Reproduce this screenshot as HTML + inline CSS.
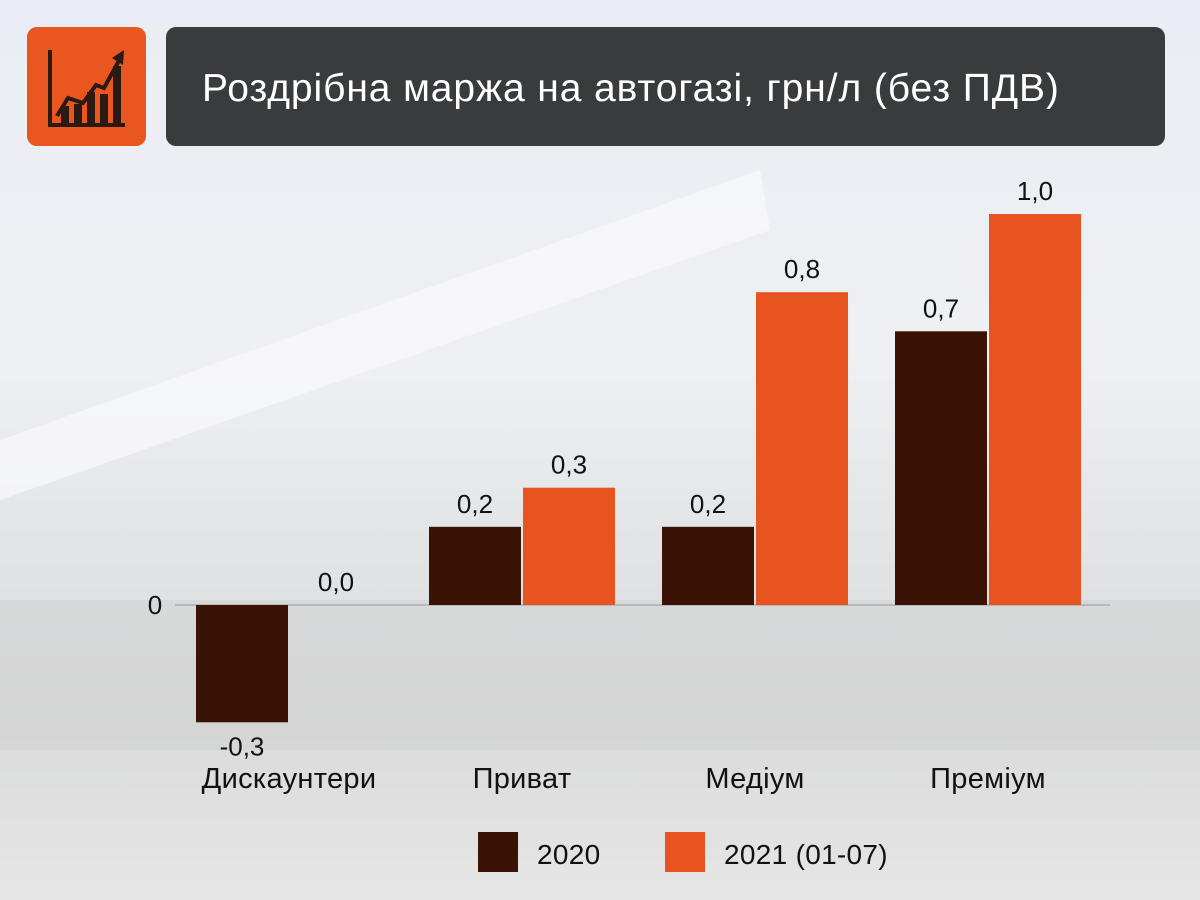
<!DOCTYPE html>
<html><head><meta charset="utf-8"><style>
body{margin:0;width:1200px;height:900px;overflow:hidden;font-family:"Liberation Sans",sans-serif;}
#bg{position:absolute;left:0;top:0;width:1200px;height:900px;background:linear-gradient(180deg,#eaedf3 0%,#eef0f3 40%,#e2e4e6 60%,#d9dadb 80%,#e6e6e6 100%);}
</style></head><body>
<div id="bg"></div>
<svg width="1200" height="900" style="position:absolute;left:0;top:0">
 <polygon points="0,440 760,170 770,230 0,500" fill="#f7f8fa" opacity="0.8"/>
 <rect x="0" y="600" width="1200" height="150" fill="#cfd0d0" opacity="0.5"/>
 <rect x="27" y="27" width="119" height="119" rx="10" fill="#e9561f"/>
 <g stroke="#2a1a12" stroke-width="4" fill="none">
  <path d="M50,50 V125 H125"/><path d="M57,116 L68,98 L83,103 L96,85 L104,88 L121,57"/>
 </g>
 <g fill="#2a1a12"><rect x="61" y="106" width="8" height="17"/><rect x="74" y="104" width="8" height="19"/><rect x="87" y="92" width="8" height="31"/><rect x="100" y="94" width="8" height="29"/><rect x="113" y="66" width="8" height="57"/><polygon points="124,50 112,58 123,65"/></g>
 <rect x="166" y="27" width="999" height="119" rx="10" fill="#3a3b3d"/>
 <text x="202" y="101" font-size="39" letter-spacing="0.9" fill="#fff">Роздрібна маржа на автогазі, грн/л (без ПДВ)</text>
 <g id="plot"></g>
 <g>
  <rect x="478" y="832" width="40" height="40" fill="#3b1305"/>
  <text x="537" y="864" font-size="28" letter-spacing="0.3" fill="#111">2020</text>
  <rect x="665" y="832" width="40" height="40" fill="#e8541f"/>
  <text x="724" y="864" font-size="28" letter-spacing="0.3" fill="#111">2021 (01-07)</text>
 </g>
</svg>
<script>
const categories=["Дискаунтери","Приват","Медіум","Преміум"];
const values2020=[-0.3,0.2,0.2,0.7];
const values2021=[0.0,0.3,0.8,1.0];
const zeroY=605,unit=391,g0=196,gStep=233,bw=92;
const y=v=>zeroY-v*unit;
const ns="http://www.w3.org/2000/svg",plot=document.getElementById('plot');
function mk(t,a){const e=document.createElementNS(ns,t);for(const k in a)e.setAttribute(k,a[k]);plot.appendChild(e);return e;}
const fmt=v=>v.toFixed(1).replace('.',',');
const zl=mk('line',{x1:175,x2:1110,y1:zeroY,y2:zeroY,stroke:'#9a9a9a','stroke-width':1});


const z=mk('text',{x:155,y:zeroY+9,'font-size':26,'text-anchor':'middle',fill:'#111'});z.textContent='0';


categories.forEach((c,i)=>{
 const gx=g0+i*gStep;
 [[values2020[i],'#3b1305',gx,'2020'],[values2021[i],'#e8541f',gx+bw+2,'2021']].forEach(([v,col,x,s])=>{
  const top=Math.min(y(v),zeroY),h=Math.abs(y(v)-zeroY);
  const r=mk('rect',{x:x,y:top,width:bw,height:h,fill:col});
  
  
  const ly=v<0?y(v)+33:y(v)-14;
  const t=mk('text',{x:x+bw/2,y:ly,'font-size':26,'text-anchor':'middle',fill:'#111'});t.textContent=fmt(v);
  
  
 });
 const ct=mk('text',{x:gx+bw+1,y:788,'font-size':29,'letter-spacing':'0.3','text-anchor':'middle',fill:'#111'});ct.textContent=c;
 
 
});
</script>
</body></html>
